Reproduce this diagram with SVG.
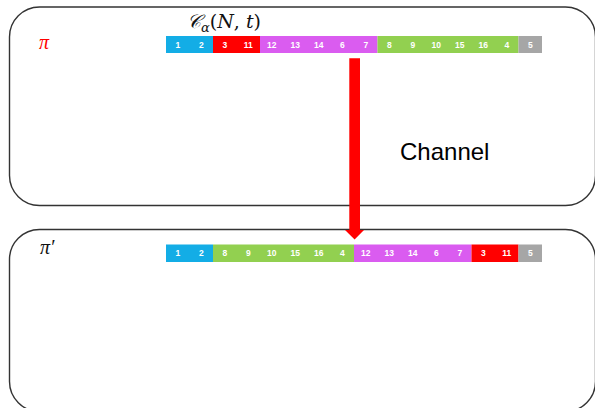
<svg xmlns="http://www.w3.org/2000/svg" width="595" height="408" viewBox="0 0 595 408">
<style>
.box{fill:none;stroke:#333;stroke-width:1.4}
.n{font-family:"Liberation Sans",Arial,sans-serif;font-weight:bold;font-size:8.5px;fill:#fff;text-anchor:middle}
.b{fill:#13ADE6}.r{fill:#FF0000}.m{fill:#DA5CF0}.g{fill:#92D050}.y{fill:#A6A6A6}
.math{font-family:"Liberation Serif","DejaVu Serif",serif;font-style:italic}
</style>
<rect width="595" height="408" fill="#fff"/>
<g id="top-box">
<rect class="box" x="9.5" y="7" width="586" height="198.5" rx="30"/>
<text class="math" x="39" y="49" font-size="20" fill="#FF0000">π</text>
<text x="187" y="28" font-family="'DejaVu Serif','Liberation Serif',serif" font-size="19" fill="#111"><tspan font-style="italic">𝒞</tspan><tspan font-style="italic" font-size="13" dy="4">α</tspan><tspan dy="-4">(</tspan><tspan font-style="italic">N</tspan><tspan>, </tspan><tspan font-style="italic">t</tspan><tspan>)</tspan></text>
<g id="bar-top">
<rect class="b" x="166" y="36" width="47" height="17"/>
<rect class="r" x="213" y="36" width="47" height="17"/>
<rect class="m" x="260" y="36" width="117.5" height="17"/>
<rect class="g" x="377.5" y="36" width="141" height="17"/>
<rect class="y" x="518.5" y="36" width="23.5" height="17"/>
<g class="n">
<text x="177.75" y="47.6">1</text><text x="201.25" y="47.6">2</text><text x="224.75" y="47.6">3</text><text x="248.25" y="47.6">11</text>
<text x="271.75" y="47.6">12</text><text x="295.25" y="47.6">13</text><text x="318.75" y="47.6">14</text><text x="342.25" y="47.6">6</text>
<text x="365.75" y="47.6">7</text><text x="389.25" y="47.6">8</text><text x="412.75" y="47.6">9</text><text x="436.25" y="47.6">10</text>
<text x="459.75" y="47.6">15</text><text x="483.25" y="47.6">16</text><text x="506.75" y="47.6">4</text><text x="530.25" y="47.6">5</text>
</g>
</g>
<text x="400" y="160" font-family="'Liberation Sans',Arial,sans-serif" font-size="24" fill="#000">Channel</text>
</g>
<g id="bottom-box">
<rect class="box" x="9.5" y="229.5" width="586" height="182" rx="30"/>
<text class="math" x="40" y="254" font-size="20" fill="#111">π′</text>
<g id="bar-bottom">
<rect class="b" x="166" y="244.5" width="47" height="17.5"/>
<rect class="g" x="213" y="244.5" width="141" height="17.5"/>
<rect class="m" x="354" y="244.5" width="117.5" height="17.5"/>
<rect class="r" x="471.5" y="244.5" width="47" height="17.5"/>
<rect class="y" x="518.5" y="244.5" width="23.5" height="17.5"/>
<g class="n">
<text x="177.75" y="256.4">1</text><text x="201.25" y="256.4">2</text><text x="224.75" y="256.4">8</text><text x="248.25" y="256.4">9</text>
<text x="271.75" y="256.4">10</text><text x="295.25" y="256.4">15</text><text x="318.75" y="256.4">16</text><text x="342.25" y="256.4">4</text>
<text x="365.75" y="256.4">12</text><text x="389.25" y="256.4">13</text><text x="412.75" y="256.4">14</text><text x="436.25" y="256.4">6</text>
<text x="459.75" y="256.4">7</text><text x="483.25" y="256.4">3</text><text x="506.75" y="256.4">11</text><text x="530.25" y="256.4">5</text>
</g>
</g>
</g>
<g id="connectors">
<path d="M349.3 58.3 H360 V230 H364 L354.6 239.5 L345 230 H349.3 Z" fill="#FF0000"/>
</g>
</svg>
